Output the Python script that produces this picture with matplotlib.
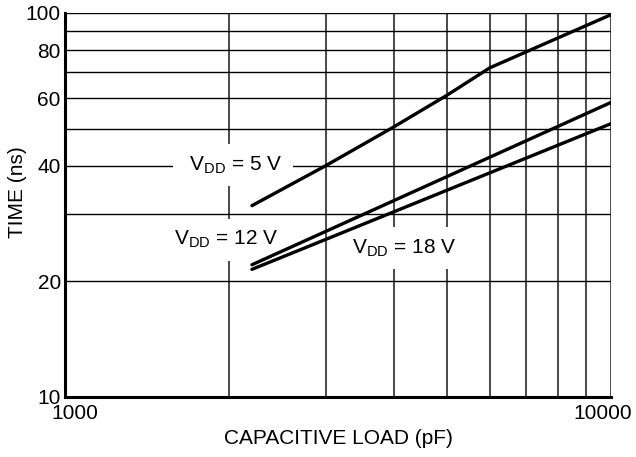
import matplotlib
matplotlib.use("Agg")
import matplotlib.pyplot as plt
import matplotlib.transforms as mtransforms

plt.rcParams['font.family'] = ['Liberation Sans', 'DejaVu Sans']
plt.rcParams['mathtext.fontset'] = 'custom'
plt.rcParams['mathtext.rm'] = 'Liberation Sans'
plt.rcParams['mathtext.it'] = 'Liberation Sans'

# values
load_5v = [2200, 3000, 4000, 5000, 6000, 10000]
time_5v = [31.5, 40, 50.5, 61, 72, 99]
load_12_18 = [2200, 10000]
time_12v = [22.1, 58.5]
time_18v = [21.5, 51.5]

x_major = [1000, 10000]
x_minor = [2000, 3000, 4000, 5000, 6000, 7000, 8000, 9000]
y_major = [10, 20, 40, 60, 80, 100]
y_minor = [30, 50, 70, 90]

FS = 15

fig = plt.figure(figsize=(6.36, 4.57), dpi=100)
ax = fig.add_axes([65/636, 1 - 397/457, 546/636, 384/457])
ax.set_xscale('log')
ax.set_yscale('log')
ax.set_xlim(1000, 10000)
ax.set_ylim(10, 100)

ax.set_xticks(x_major)
ax.set_xticklabels([str(v) for v in x_major])
ax.set_xticks(x_minor, minor=True)
ax.set_xticklabels([], minor=True)
ax.set_yticks(y_major)
ax.set_yticklabels([str(v) for v in y_major])
ax.set_yticks(y_minor, minor=True)
ax.set_yticklabels([], minor=True)
ax.tick_params(which='both', length=0, labelsize=FS)
ax.tick_params(axis='x', pad=5)
ax.tick_params(axis='y', pad=3)

# nudge the x labels inward like the original
offs = [0.10, -0.08]
for lab, dx in zip(ax.get_xticklabels(), offs):
    lab.set_transform(lab.get_transform() + mtransforms.ScaledTranslation(dx, 0, fig.dpi_scale_trans))

ax.xaxis.grid(True, which='both', color='#3a3a3a', linewidth=1.3)
ax.yaxis.grid(True, which='both', color='black', linewidth=1.0)
ax.set_axisbelow(True)

for s in ['top', 'right']:
    ax.spines[s].set_visible(False)
for s in ['left', 'bottom']:
    ax.spines[s].set_linewidth(2.2)
    ax.spines[s].set_zorder(5)

ax.plot(load_5v, time_5v, color='black', lw=2.4, solid_capstyle='round', zorder=4)
ax.plot(load_12_18, time_12v, color='black', lw=2.4, solid_capstyle='round', zorder=4)
ax.plot(load_12_18, time_18v, color='black', lw=2.4, solid_capstyle='round', zorder=4)

box = dict(boxstyle='square,pad=0.5', facecolor='white', edgecolor='none')
ax.text(2030, 40.2, ' $\\mathrm{V}_{\\mathrm{DD}}$ = 5 V ', ha='center', va='center',
        fontsize=FS, bbox=box, zorder=3)
ax.text(1972, 25.7, '$\\mathrm{V}_{\\mathrm{DD}}$ = 12 V', ha='center', va='center',
        fontsize=FS, bbox=box, zorder=3)
ax.text(4178, 24.4, '$\\mathrm{V}_{\\mathrm{DD}}$ = 18 V', ha='center', va='center',
        fontsize=FS, bbox=box, zorder=3)

ax.set_ylabel('TIME (ns)', fontsize=FS)
ax.yaxis.set_label_coords(-0.07, 0.534)
fig.text(338/636, 1 - 439/457, 'CAPACITIVE LOAD (pF)', ha='center', va='center', fontsize=FS)

fig.savefig('out.png', dpi=100)
